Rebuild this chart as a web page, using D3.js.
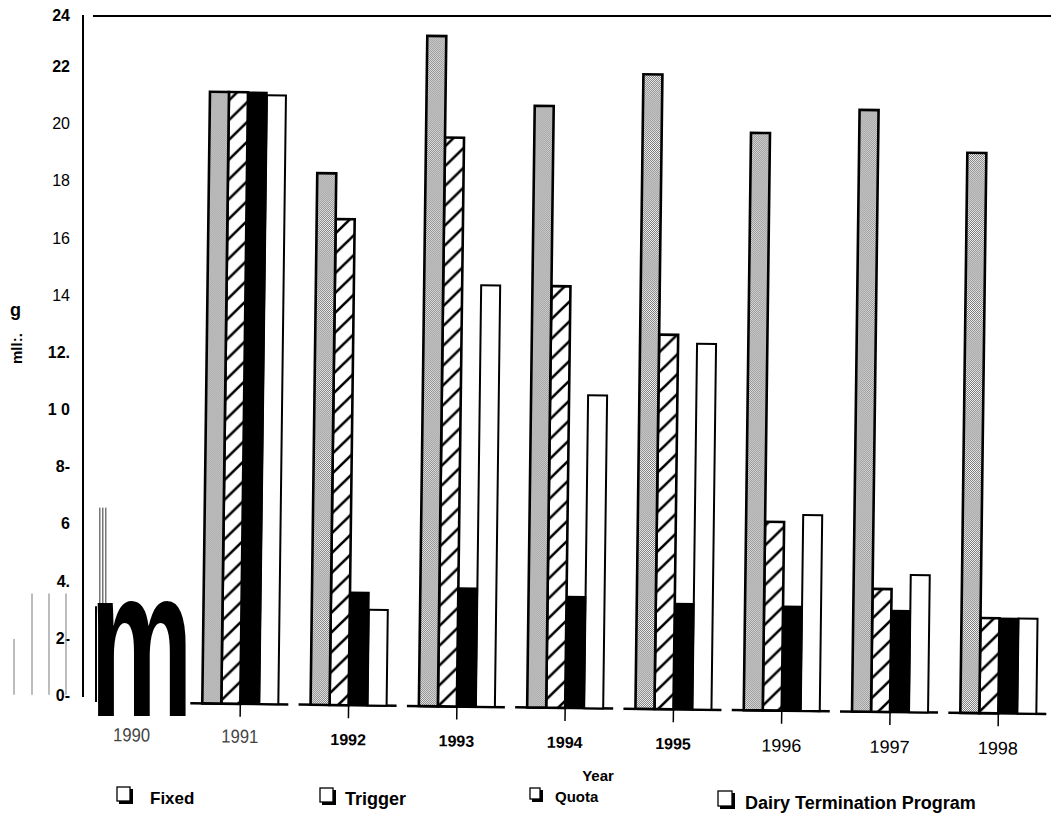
<!DOCTYPE html>
<html><head><meta charset="utf-8">
<script src="https://cdn.jsdelivr.net/npm/d3@7"></script>
<style>body{margin:0;background:#fff}</style>
</head><body><svg id="c" width="1051" height="833" xmlns="http://www.w3.org/2000/svg"></svg>
<script>
// ---- data ----
const categories = ["1990","1991","1992","1993","1994","1995","1996","1997","1998"];
const seriesNames = ["Fixed","Trigger","Quota","Dairy Termination Program"];
const fixed   = [null, 21.4, 18.6, 23.45, 21.05, 22.2, 20.2, 21.05, 19.6];
const trigger = [null, 21.4, 17.0, 19.9, 14.75, 13.1, 6.6, 4.3, 3.33];
const quota   = [null, 21.4, 3.95, 4.15, 3.9, 3.7, 3.65, 3.55, 3.33];
const dtp     = [null, 21.3, 3.35, 14.75, 10.95, 12.8, 6.85, 4.8, 3.33];
const yTickValues = [0,2,4,6,8,10,12,14,16,18,20,22,24];
const yTickLabels = ["0-","2-","4.","6","8-","1 0","12.","14","16","18","20","22","24"];
const yTickBold   = [true,true,true,true,true,true,true,false,false,false,false,true,true];
const xAxisTitle = "Year";

const series = [fixed, trigger, quota, dtp];

const svg = d3.select("#c");
const font = "'Liberation Sans', Arial, sans-serif";

// patterns
const defs = svg.append("defs");
const st = defs.append("pattern").attr("id","stip").attr("patternUnits","userSpaceOnUse").attr("width",2).attr("height",2);
st.append("rect").attr("width",2).attr("height",2).attr("fill","#fff");
st.append("rect").attr("width",1).attr("height",1).attr("fill","#707070");
st.append("rect").attr("x",1).attr("y",1).attr("width",1).attr("height",1).attr("fill","#707070");
const ht = defs.append("pattern").attr("id","hatch").attr("patternUnits","userSpaceOnUse").attr("width",20).attr("height",20);
ht.append("rect").attr("width",20).attr("height",20).attr("fill","#fff");
ht.append("path").attr("d","M-5,5 L5,-5 M0,20 L20,0 M15,25 L25,15").attr("stroke","#000").attr("stroke-width",2.6);
const gs = defs.append("pattern").attr("id","gstripe").attr("patternUnits","userSpaceOnUse").attr("width",3).attr("height",4);
gs.append("rect").attr("width",3).attr("height",4).attr("fill","#fff");
gs.append("rect").attr("width",1.5).attr("height",4).attr("fill","#777");

const fills = ["url(#stip)","url(#hatch)","#000","#fff"];
const strokeW = [2.6,2.6,1.5,2];

// scales
const y = d3.scaleLinear().domain([0,24]).range([702,16]);
const x0 = d3.scaleBand().domain(categories).range([94,1036.4]).paddingInner(0.298).paddingOuter(0);
const x1 = d3.scaleBand().domain(seriesNames).range([0,x0.bandwidth()]).padding(0);

// y axis
const yAxis = d3.axisLeft(y).tickValues(yTickValues).tickFormat((d,i)=>yTickLabels[i]).tickSize(0).tickPadding(0);
const ya = svg.append("g").attr("transform","translate(70,0)").call(yAxis);
ya.select(".domain").remove();
ya.selectAll("text").attr("font-family",font).attr("font-size",16).attr("fill","#000")
  .attr("dy",d=>d===24?"0.25em":"-0.1em").attr("font-weight",(d,i)=>yTickBold[i]?"bold":"normal");

// axis frame lines
svg.append("line").attr("x1",83).attr("x2",83).attr("y1",y(24)-1).attr("y2",y(0)-5).attr("stroke","#000").attr("stroke-width",2);
svg.append("line").attr("x1",93).attr("x2",1051).attr("y1",y(24)).attr("y2",y(24)).attr("stroke","#000").attr("stroke-width",2);

// garbled axis title remnants
svg.append("text").attr("x",10).attr("y",316).attr("font-family",font).attr("font-weight","bold").attr("font-size",18).text("g");
svg.append("text").attr("transform","translate(22,364) rotate(-90)").attr("font-family",font).attr("font-weight","bold").attr("font-size",15).text("mll:.");

// plot (scan is slightly skewed)
const plot = svg.append("g").attr("transform","rotate(0.72,94,702)");

// baseline segments and ticks
const shown = categories.filter((c,i)=>series.some(s=>s[i]!=null));
plot.selectAll("line.base").data(shown).join("line").attr("class","base")
  .attr("x1",c=>x0(c)-12).attr("x2",c=>x0(c)+x0.bandwidth()+10)
  .attr("y1",y(0)).attr("y2",y(0)).attr("stroke","#000").attr("stroke-width",2.5);
plot.selectAll("line.tick").data(shown).join("line").attr("class","tick")
  .attr("x1",c=>x0(c)+x0.bandwidth()/2).attr("x2",c=>x0(c)+x0.bandwidth()/2)
  .attr("y1",y(0)).attr("y2",y(0)+13).attr("stroke","#000").attr("stroke-width",1.5);

// bars
const barData = [];
categories.forEach((c,i)=>{
  [3,2,1,0].forEach(k=>{
    const v = series[k][i];
    if (v!=null) barData.push({c, k, v});
  });
});
plot.selectAll("rect.bar").data(barData).join("rect").attr("class","bar")
  .attr("x",d=>x0(d.c)+x1(seriesNames[d.k]))
  .attr("y",d=>y(d.v))
  .attr("width",x1.bandwidth())
  .attr("height",d=>y(0)-y(d.v))
  .attr("fill",d=>fills[d.k])
  .attr("stroke","#000")
  .attr("stroke-width",d=>strokeW[d.k]);

// x labels
const thin = c => c==="1990"||c==="1991";
const labelStyle = c => {
  if (thin(c)) return {f:font, w:"normal", s:19, dy:39};
  if (+c<=1995) return {f:font, w:"bold", s:16, dy:40};
  return {f:font, w:"normal", s:18, dy:41};
};
const xl = plot.selectAll("text.xl").data(categories).join("text").attr("class","xl")
  .attr("x",c=>x0(c)+x0.bandwidth()/2)
  .attr("y",c=>y(0)+labelStyle(c).dy)
  .attr("text-anchor","middle")
  .attr("font-family",c=>labelStyle(c).f)
  .attr("font-weight",c=>labelStyle(c).w)
  .attr("font-size",c=>labelStyle(c).s)
  .attr("fill",c=>thin(c)?"#444":"#000")
  .text(c=>c);
xl.filter(thin).attr("textLength",37).attr("lengthAdjust","spacingAndGlyphs");

// scan remnants around 1990
const g90 = x0("1990");
const faint = [{x:14,a:0.25,b:2.2},{x:32,a:0.25,b:3.8},{x:49,a:0.25,b:3.8},{x:66,a:0.25,b:3.8}];
svg.selectAll("line.faint").data(faint).join("line").attr("class","faint")
  .attr("x1",d=>d.x).attr("x2",d=>d.x).attr("y1",d=>y(d.a)).attr("y2",d=>y(d.b))
  .attr("stroke","#999").attr("stroke-width",1.3);
svg.append("line").attr("x1",g90+2).attr("x2",g90+2).attr("y1",y(3.35)).attr("y2",y(0)).attr("stroke","#000").attr("stroke-width",2);
svg.append("rect").attr("x",g90+4).attr("y",y(6.8)).attr("width",10).attr("height",y(3.4)-y(6.8)).attr("fill","url(#gstripe)");
svg.append("text").attr("transform",`translate(${g90-4},716) scale(0.54,1)`)
  .attr("font-family",font).attr("font-weight","bold").attr("font-size",214).attr("fill","#000").text("m");

// x axis title
svg.append("text").attr("x",598).attr("y",781).attr("text-anchor","middle")
  .attr("font-family",font).attr("font-weight","bold").attr("font-size",15).text(xAxisTitle);

// legend (shadowed check boxes + labels)
const legX = [117, 320, 530, 718];
const legBox = [14, 14, 11, 15];
const legTextDx = [33, 25, 25, 27];
const legSize = [17, 18, 15, 18];
const legY = [804, 805, 802, 809];
const leg = svg.selectAll("g.leg").data(seriesNames).join("g").attr("class","leg")
  .attr("transform",(d,i)=>`translate(${legX[i]},${legY[i]})`);
leg.append("rect").attr("x",(d,i)=>2).attr("y",(d,i)=>-legBox[i]-1)
  .attr("width",(d,i)=>legBox[i]).attr("height",(d,i)=>legBox[i]+1).attr("fill","#000");
leg.append("rect").attr("x",0).attr("y",(d,i)=>-legBox[i]-3)
  .attr("width",(d,i)=>legBox[i]-1).attr("height",(d,i)=>legBox[i])
  .attr("fill","#fff").attr("stroke","#000").attr("stroke-width",1.3);
leg.append("text").attr("x",(d,i)=>legTextDx[i]).attr("y",0).attr("font-family",font).attr("font-weight","bold")
  .attr("font-size",(d,i)=>legSize[i]).text(d=>d);
</script></body></html>
